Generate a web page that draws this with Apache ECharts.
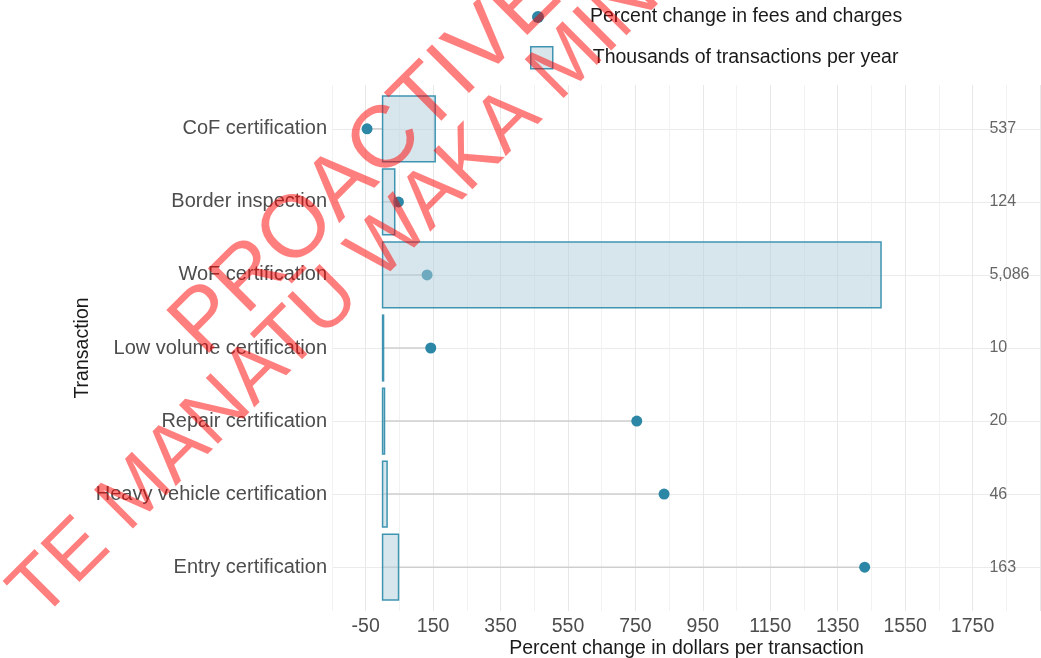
<!DOCTYPE html>
<html><head><meta charset="utf-8">
<script src="https://cdn.jsdelivr.net/npm/echarts@6/dist/echarts.min.js"></script>
<style>html,body{margin:0;padding:0;background:#fff}#c{width:1041px;height:658px}</style>
</head><body><div id="c"></div>
<script>
// ---- data ----
const categories = ['CoF certification', 'Border inspection', 'WoF certification',
  'Low volume certification', 'Repair certification', 'Heavy vehicle certification', 'Entry certification'];
const pctChange = [-46, 47, 132, 143, 754, 835, 1430];          // percent change in fees and charges
const transactions = [537, 124, 5086, 10, 20, 46, 163];          // thousands of transactions per year
const xTickLabels = ['-50', '150', '350', '550', '750', '950', '1150', '1350', '1550', '1750'];
const seriesNames = ['Percent change in fees and charges', 'Thousands of transactions per year'];

// ---- layout / style constants ----
const FONT = 'Liberation Sans, Arial, sans-serif';
const DOT = '#2b87a5';
const BAR_FILL = 'rgba(176,206,217,0.5)';
const BAR_STROKE = '#3f95b1';
const X_MIN = -150, X_MAX = 1953;
const BAR_SCALE = 3.44;      // thousands of transactions per unit of the main axis
const LABEL_X = 1800;        // x position of right-hand count labels
const WM_COLOR = 'rgba(255,0,0,0.5)';

const chart = echarts.init(document.getElementById('c'), null, {renderer: 'canvas'});
const rows = categories.map((c, i) => i + 1);

const option = {
  backgroundColor: '#fff',
  animation: false,
  textStyle: {fontFamily: FONT},
  grid: {left: 332, right: 0, top: 85, bottom: 47, containLabel: false, outerBoundsMode: 'none'},
  legend: [
    {
      orient: 'vertical', left: 532, top: 7, padding: 0, itemWidth: 12, itemHeight: 12,
      selectedMode: false,
      data: [{name: seriesNames[0], icon: 'circle', itemStyle: {color: DOT}}],
      textStyle: {fontSize: 19.5, color: '#1a1a1a', fontFamily: FONT, padding: [0, 0, 0, 41]}
    },
    {
      orient: 'vertical', left: 530, top: 46, padding: 0, itemWidth: 22, itemHeight: 22,
      selectedMode: false,
      data: [{name: seriesNames[1], icon: 'rect',
        itemStyle: {color: '#d8e6eb', borderColor: BAR_STROKE, borderWidth: 1.5}}],
      textStyle: {fontSize: 19.5, color: '#1a1a1a', fontFamily: FONT, padding: [0, 0, 0, 35]}
    }
  ],
  xAxis: [
    {
      type: 'value', min: X_MIN, max: X_MAX, interval: 50,
      axisLine: {show: false}, axisTick: {show: false},
      axisLabel: {
        fontSize: 19.5, color: '#4d4d4d', fontFamily: FONT, margin: 6,
        formatter: v => (xTickLabels.indexOf(String(v)) >= 0 ? String(v) : '')
      },
      splitLine: {
        show: true, showMaxLine: false,
        lineStyle: {color: ['#f2f2f2', 'rgba(0,0,0,0)', '#e8e8e8', 'rgba(0,0,0,0)'], width: 1}
      },
      name: 'Percent change in dollars per transaction', nameLocation: 'middle', nameGap: 28,
      nameMoveOverlap: false,
      nameTextStyle: {fontSize: 19.5, color: '#1a1a1a', fontFamily: FONT, verticalAlign: 'top'}
    },
    {
      type: 'value', min: X_MIN * BAR_SCALE, max: X_MAX * BAR_SCALE, show: false,
      splitLine: {show: false}
    }
  ],
  yAxis: {
    type: 'value', inverse: true, min: 0.4, max: 7.6, splitNumber: 7, minInterval: 1, maxInterval: 1,
    axisLine: {show: false}, axisTick: {show: false},
    axisLabel: {
      fontSize: 20, color: '#4d4d4d', fontFamily: FONT, margin: 5,
      formatter: v => (Number.isInteger(v) && categories[v - 1]) ? categories[v - 1] : ''
    },
    splitLine: {show: true, showMinLine: false, showMaxLine: false, lineStyle: {color: '#ebebeb', width: 1}},
    name: 'Transaction', nameLocation: 'middle', nameRotate: 90, nameGap: 239, nameMoveOverlap: false,
    nameTextStyle: {fontSize: 19.5, color: '#1a1a1a', fontFamily: FONT}
  },
  series: [
    {
      type: 'custom', name: 'segments', xAxisIndex: 0, z: 1, silent: true,
      data: pctChange.map((p, i) => [p, rows[i]]),
      renderItem: (params, api) => {
        const y = api.value(1);
        const a = api.coord([0, y]), b = api.coord([api.value(0), y]);
        return {type: 'line', shape: {x1: a[0], y1: a[1], x2: b[0], y2: b[1]},
          style: {stroke: '#cfcfcf', lineWidth: 1.5}};
      }
    },
    {
      type: 'scatter', name: seriesNames[0], xAxisIndex: 0, z: 2, symbolSize: 11,
      itemStyle: {color: DOT, opacity: 1},
      data: pctChange.map((p, i) => [p, rows[i]])
    },
    {
      type: 'custom', name: seriesNames[1], xAxisIndex: 1, z: 3,
      itemStyle: {color: '#d8e6eb'},
      data: transactions.map((t, i) => [t, rows[i]]),
      renderItem: (params, api) => {
        const y = api.value(1);
        const a = api.coord([0, y]), b = api.coord([api.value(0), y]);
        const h = api.size([0, 0.9])[1];
        return {type: 'rect', shape: {x: a[0], y: a[1] - h / 2, width: Math.max(b[0] - a[0], 0.5), height: h},
          style: {fill: BAR_FILL, stroke: BAR_STROKE, lineWidth: 1.5}};
      }
    },
    {
      type: 'custom', name: 'counts', xAxisIndex: 1, z: 4, silent: true,
      data: transactions.map((t, i) => [t, rows[i]]),
      renderItem: (params, api) => {
        const y = api.value(1);
        const xPix = api.coord([LABEL_X * BAR_SCALE, y]);
        return {type: 'text', x: xPix[0], y: xPix[1],
          style: {text: api.value(0).toLocaleString('en-US'), fill: '#666', fontSize: 16, fontFamily: FONT,
            align: 'left', verticalAlign: 'middle'}};
      }
    }
  ],
  graphic: [
    {type: 'text', x: 218, y: 372, rotation: Math.PI / 4, z: 100, silent: true,
      style: {text: 'PROACTIVELY RELEASED', fontSize: 88, fontFamily: FONT, fill: WM_COLOR,
        align: 'left', verticalAlign: 'bottom'}},
    {type: 'text', x: 53, y: 634, rotation: Math.PI / 4, z: 100, silent: true,
      style: {text: 'TE MANATŪ WAKA MINISTRY OF TRANSPORT', fontSize: 80, fontFamily: FONT, fill: WM_COLOR,
        align: 'left', verticalAlign: 'bottom'}}
  ]
};
chart.setOption(option);
</script></body></html>
